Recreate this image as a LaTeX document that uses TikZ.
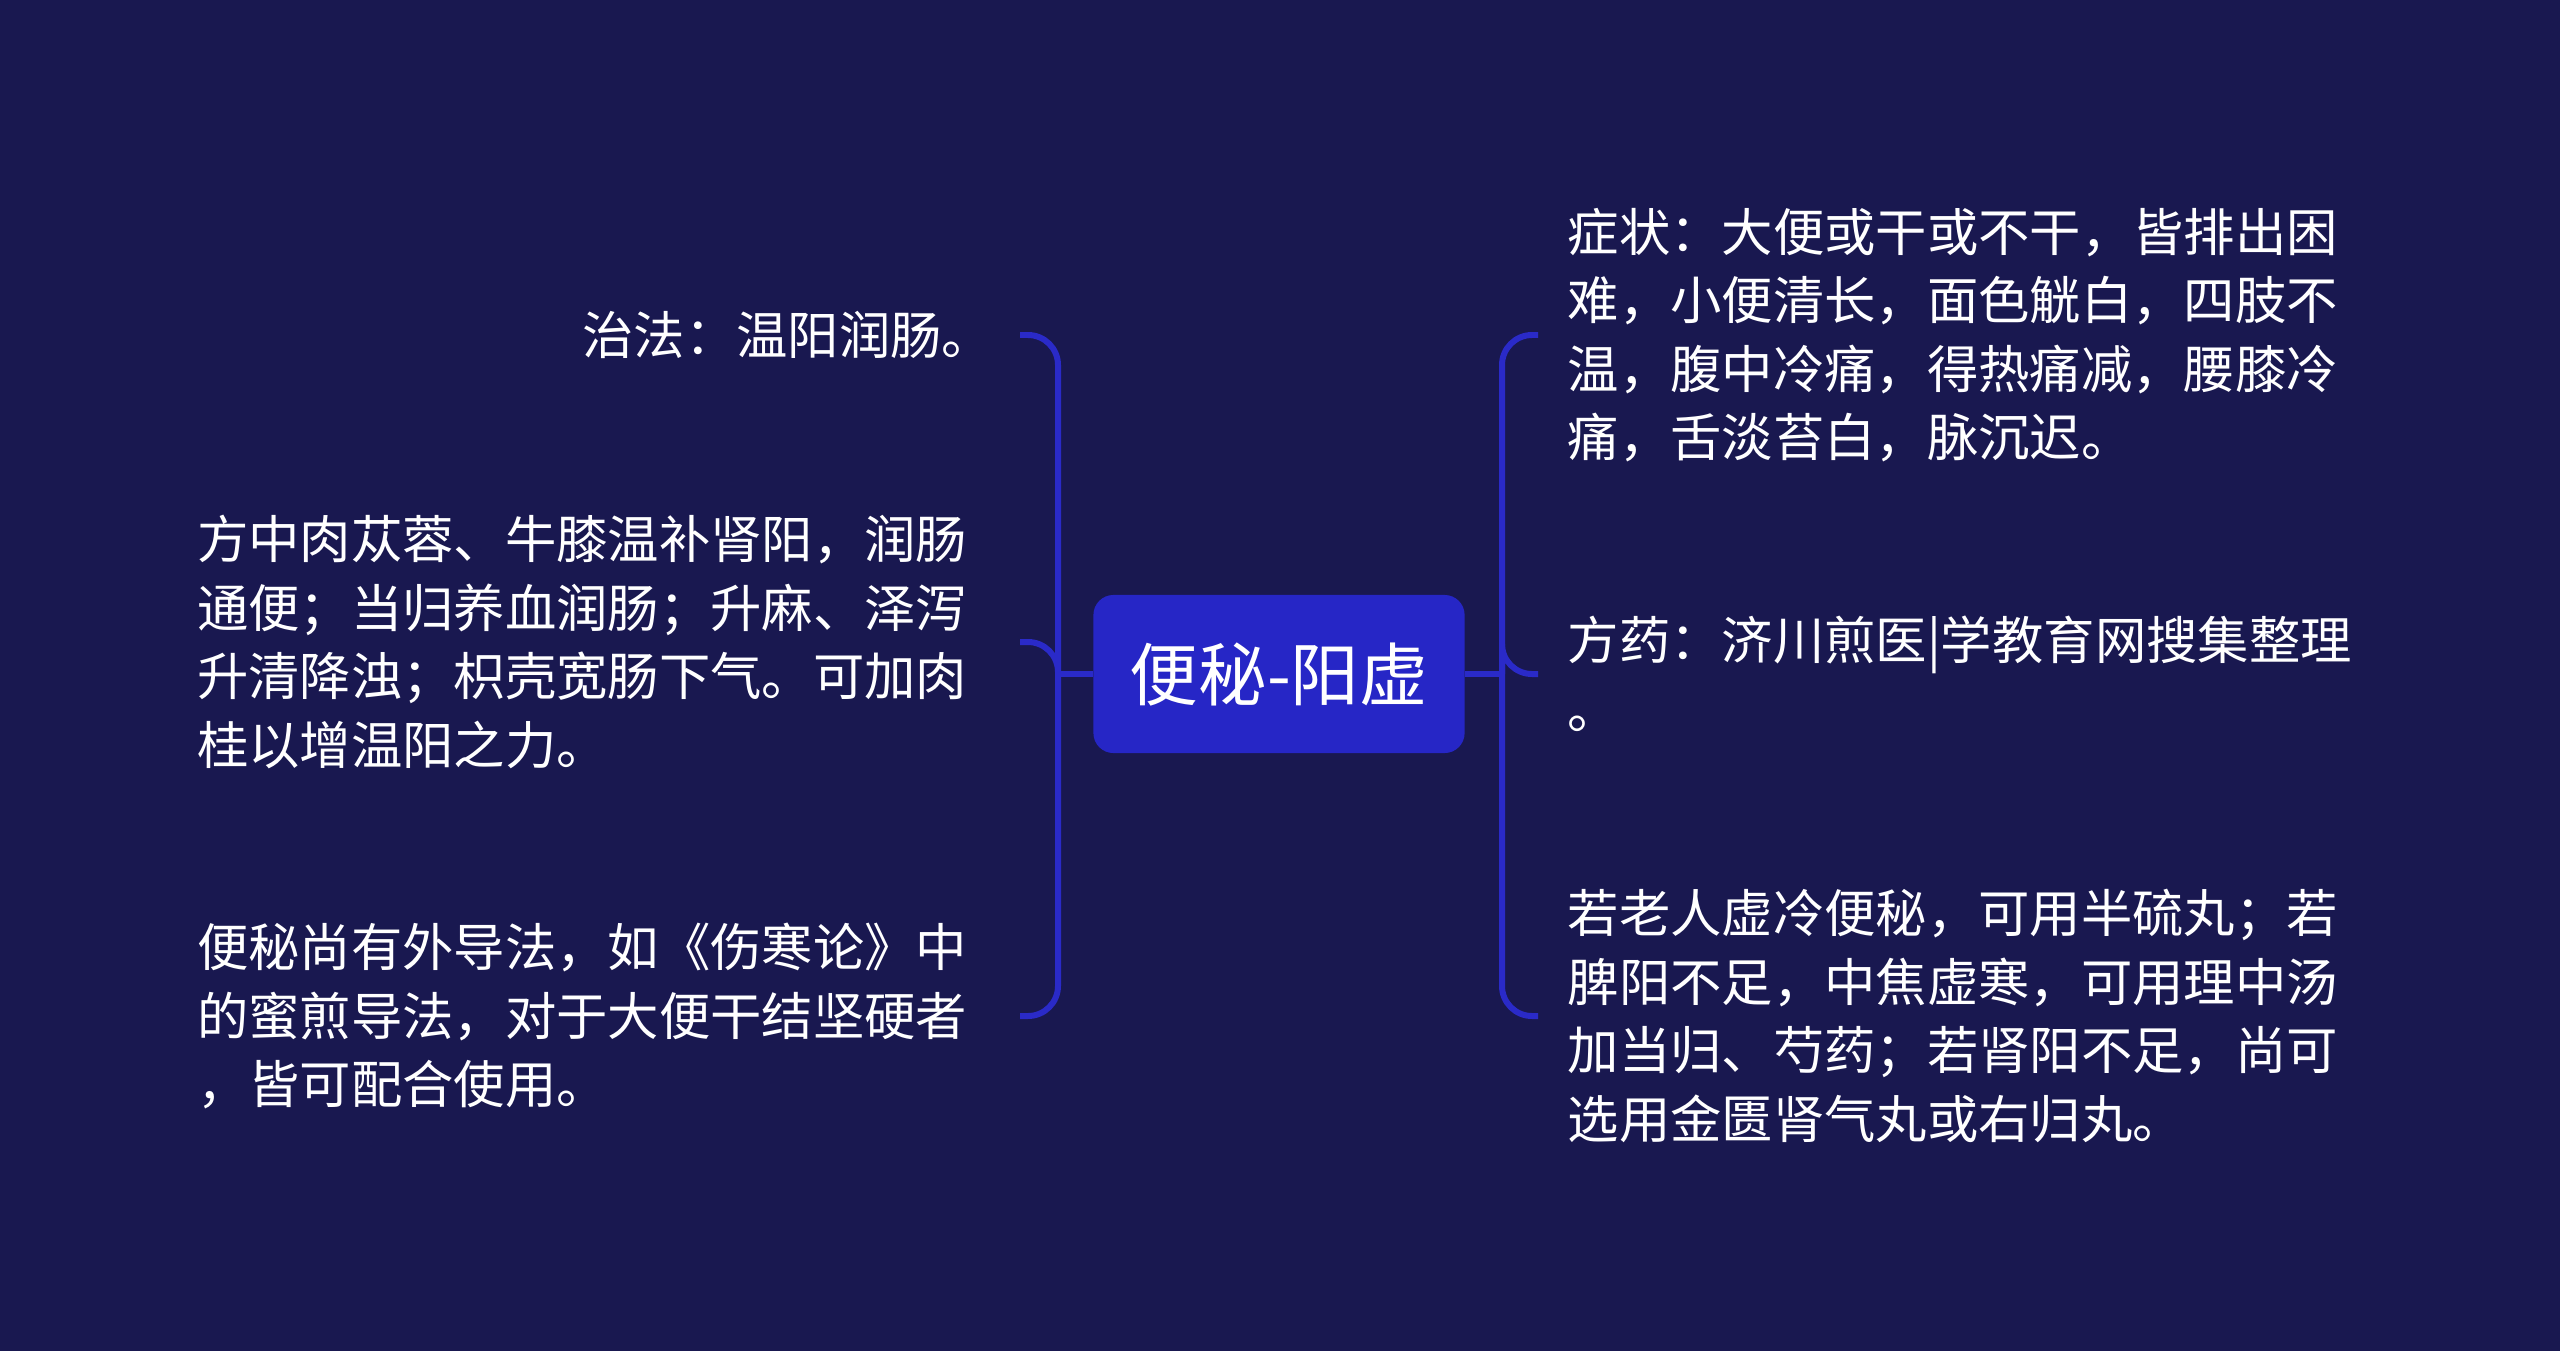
\documentclass[tikz,border=0pt]{standalone}
\usepackage{fontspec}
\setmainfont{Noto Sans CJK SC}
\usetikzlibrary{positioning, calc}
\definecolor{bgnavy}{RGB}{25,24,80}
\definecolor{linkblue}{RGB}{42,42,200}
\definecolor{rootblue}{RGB}{38,38,198}

\begin{document}
\begin{tikzpicture}[
    x=0.01cm, y=-0.01cm,
    root/.style={fill=rootblue, rounded corners=0.2cm, minimum width=3.71cm, minimum height=1.58cm, text=white, font=\fontsize{19.5pt}{24pt}\selectfont},
    leaf/.style={inner sep=0pt, align=left, text=white, font=\fontsize{14.6pt}{19.5pt}\selectfont},
    link/.style={draw=linkblue, line width=1.7pt, rounded corners=0.3cm},
]

\fill[bgnavy] (0,0) rectangle (2560,1351);

\node[root] (root) at (1279,674) {便秘-阳虚};

\node[leaf, anchor=east] (zhifa) at (994,335) {治法：温阳润肠。};
\node[leaf, anchor=east] (fangjie) at (968,642) {方中肉苁蓉、牛膝温补肾阳，润肠\\通便；当归养血润肠；升麻、泽泻\\升清降浊；枳壳宽肠下气。可加肉\\桂以增温阳之力。};
\node[leaf, anchor=east] (waidao) at (968,1016) {便秘尚有外导法，如《伤寒论》中\\的蜜煎导法，对于大便干结坚硬者\\，皆可配合使用。};

\node[leaf, anchor=west] (zhengzhuang) at (1567,335) {症状：大便或干或不干，皆排出困\\难，小便清长，面色觥白，四肢不\\温，腹中冷痛，得热痛减，腰膝冷\\痛，舌淡苔白，脉沉迟。};
\node[leaf, anchor=west] (fangyao) at (1567,674) {方药：济川煎医|学教育网搜集整理\\。};
\node[leaf, anchor=west] (jiajian) at (1567,1016) {若老人虚冷便秘，可用半硫丸；若\\脾阳不足，中焦虚寒，可用理中汤\\加当归、芍药；若肾阳不足，尚可\\选用金匮肾气丸或右归丸。};

\coordinate (ljoin) at (1058,674);
\coordinate (rjoin) at (1502,674);

\draw[link] (root.west) -- (ljoin);
\draw[link] (ljoin) |- ([xshift=0.26cm]zhifa.east);
\draw[link] (ljoin) |- ([xshift=0.52cm]fangjie.east);
\draw[link] (ljoin) |- ([xshift=0.52cm]waidao.east);

\draw[link] (root.east) -- (rjoin);
\draw[link] (rjoin) |- ([xshift=-0.29cm]zhengzhuang.west);
\draw[link] (rjoin) |- ([xshift=-0.29cm]fangyao.west);
\draw[link] (rjoin) |- ([xshift=-0.29cm]jiajian.west);

\end{tikzpicture}
\end{document}
